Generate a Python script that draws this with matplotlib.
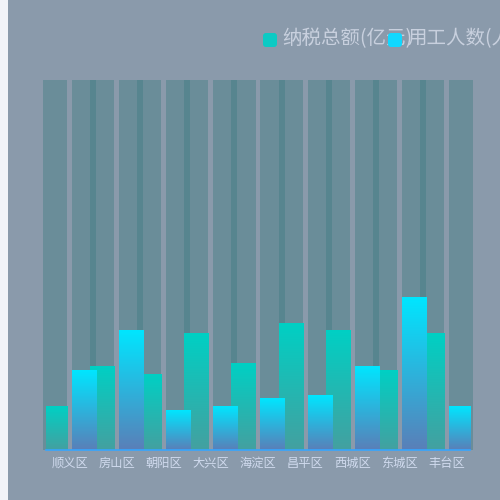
import numpy as np
import matplotlib
matplotlib.use("Agg")
import matplotlib.pyplot as plt
from matplotlib.patches import FancyBboxPatch, Rectangle
from matplotlib.colors import LinearSegmentedColormap

plt.rcParams['font.family'] = ['Noto Sans CJK SC', 'DejaVu Sans']

# 数据
districts = ['顺义区', '房山区', '朝阳区', '大兴区', '海淀区', '昌平区', '西城区', '东城区', '丰台区']
tax_total = [11.7, 22.5, 20.5, 31.4, 23.5, 34.2, 32.4, 21.6, 31.4]      # 纳税总额(亿元)
employees = [21.6, 32.4, 10.8, 11.7, 13.8, 14.7, 22.5, 41.1, 11.7]      # 用工人数(人)
y_max = 100
series_names = ['纳税总额(亿元)', '用工人数(人)']

BG = '#8a9aab'
SHADOW = (0.23, 0.48, 0.50, 0.4)
teal_cmap = LinearSegmentedColormap.from_list('teal', ['#44a0a0', '#00d0c4'])
blue_cmap = LinearSegmentedColormap.from_list('blue', ['#5a7fb8', '#00e6ff'])

fig = plt.figure(figsize=(5, 5), dpi=100, facecolor=BG)
# bande claire à gauche
fig.patches.append(Rectangle((0, 0), 8 / 500, 1, transform=fig.transFigure,
                             facecolor='#f1f3f8', edgecolor='none', zorder=0))

ax = fig.add_axes([46 / 500, 50 / 500, 424 / 500, 370 / 500])
ax.set_facecolor('none')
n = len(districts)
x = np.arange(n)
bw = 0.51
off = 0.308
xlo, xhi = -0.5, n - 0.5


def gradient_bars(bars, cmap):
    grad = np.linspace(0, 1, 256).reshape(-1, 1)
    for b in bars:
        x0, y0 = b.get_x(), b.get_y()
        w, h = b.get_width(), b.get_height()
        # clipped to the plot area like the original
        ax.imshow(grad, cmap=cmap, origin='lower', aspect='auto',
                  extent=[max(x0, xlo), min(x0 + w, xhi), y0, y0 + h], zorder=3)
        b.set_visible(False)


# shadow background bars
ax.bar(x - off, [y_max] * n, bw, color=SHADOW, zorder=1, clip_on=False)
ax.bar(x + off, [y_max] * n, bw, color=SHADOW, zorder=1, clip_on=False)

b1 = ax.bar(x - off, tax_total, bw, zorder=3)
b2 = ax.bar(x + off, employees, bw, zorder=3)
gradient_bars(b1, teal_cmap)
gradient_bars(b2, blue_cmap)
ax.set_ylim(0, y_max)
ax.set_xlim(xlo, xhi)

for s in ['top', 'right', 'left']:
    ax.spines[s].set_visible(False)
ax.spines['bottom'].set_color('#35a6ff')
ax.spines['bottom'].set_linewidth(1.2)
ax.spines['bottom'].set_zorder(4)
ax.set_yticks([])
ax.set_xticks(x)
ax.set_xticklabels(districts, fontsize=8.8, color='#d0daee')
ax.tick_params(axis='x', length=0, pad=5)

# legend placed by hand, overlapping like the original
leg_items = [(263, '#0ccac4', series_names[0]), (388, '#10d8ff', series_names[1])]
for px, col, name in leg_items:
    fig.text((px + 19) / 500, (500 - 39) / 500, name, fontsize=14, color='#c8d0de',
             ha='left', va='center', zorder=4)
    fig.patches.append(FancyBboxPatch((px / 500, (500 - 47) / 500), 14 / 500, 14 / 500,
                                      boxstyle='round,pad=0,rounding_size=0.006',
                                      transform=fig.transFigure, facecolor=col,
                                      edgecolor='none', zorder=5))

fig.savefig('out.png', dpi=100, facecolor=BG)
